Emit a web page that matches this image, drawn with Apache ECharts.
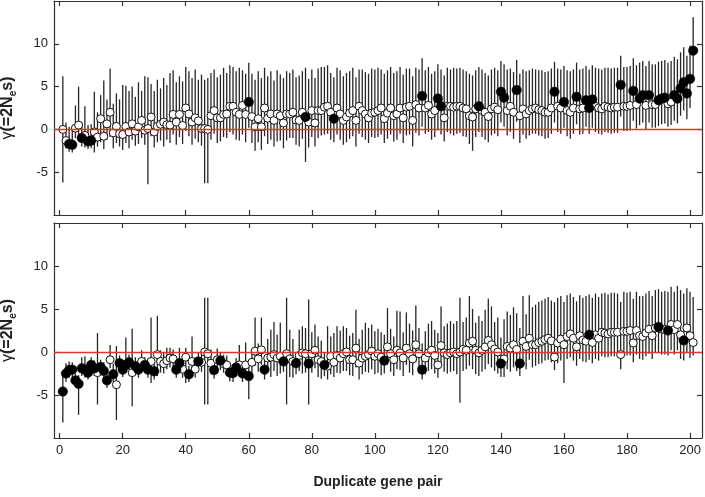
<!DOCTYPE html>
<html><head><meta charset="utf-8">
<script src="https://cdn.jsdelivr.net/npm/echarts@6/dist/echarts.min.js"></script>
<style>html,body{margin:0;padding:0;background:#fff}#c{width:705px;height:497px}</style>
</head><body><div id="c"></div>
<script>
const xTicks = [0,20,40,60,80,100,120,140,160,180,200];
const yTicks = [-5,0,5,10];

const topVal = [
0.0,-1.3,-1.7,-1.8,0.15,0.5,-1.0,-0.7,-1.4,-1.3,
-0.3,-0.9,1.25,-0.8,0.65,2.0,-0.4,0.35,-0.5,-0.6,
0.35,-0.3,0.65,-0.2,0.3,1.05,-0.1,0.1,1.45,-0.3,
0.35,0.6,0.85,0.55,0.5,1.75,0.85,1.75,0.45,2.5,
1.8,0.85,1.35,1.0,0.1,0.1,0.0,1.6,2.2,1.35,
1.35,1.75,1.8,2.7,2.7,2.0,1.75,2.8,1.75,3.2,
1.5,0.3,1.25,0.3,2.5,1.3,1.8,1.05,1.8,1.6,
0.75,1.8,1.8,2.0,1.1,1.05,2.0,1.45,0.85,2.2,
0.75,2.2,2.2,2.6,2.7,2.0,1.25,2.5,1.8,1.05,
1.45,1.9,2.2,1.05,2.7,2.2,1.8,1.35,1.9,2.0,
2.2,2.5,1.25,1.9,2.5,1.6,1.8,2.5,1.35,2.6,
2.7,1.05,2.9,2.5,3.9,2.5,2.8,1.8,2.2,3.6,
2.7,1.35,2.7,2.7,2.6,2.7,2.7,2.5,2.4,1.6,
1.45,2.4,2.7,2.2,2.0,1.5,2.4,2.6,2.3,4.4,
3.7,2.2,2.7,2.0,4.6,1.6,2.4,1.8,2.2,2.4,
2.5,2.3,2.2,2.0,2.0,2.5,4.4,2.7,2.5,3.2,
2.2,2.0,2.5,3.8,2.4,2.5,3.4,2.5,3.5,2.7,
2.5,2.4,2.7,2.6,2.5,2.6,2.6,5.2,2.7,2.7,
2.8,4.5,2.9,3.6,4.0,2.8,4.0,2.9,2.9,3.4,
3.6,3.7,3.0,3.2,4.0,3.6,4.8,5.5,4.2,5.9,
9.2];
const topHi = [
6.2,0.8,0.3,0.0,2.8,5.0,0.8,2.7,0.5,0.6,
4.4,2.0,4.0,5.7,3.5,7.1,3.0,4.2,3.5,5.2,
5.1,4.5,5.0,3.8,5.5,4.5,6.2,6.1,5.3,4.5,
5.8,4.8,6.0,5.2,6.6,6.9,5.5,6.2,5.6,7.3,
6.8,6.0,7.0,5.8,6.4,5.8,6.0,6.6,7.0,6.1,
6.4,7.2,6.6,7.5,7.3,6.8,7.2,6.9,6.5,7.8,
6.5,5.8,6.8,6.0,7.2,6.2,6.8,5.7,6.9,6.4,
6.0,6.8,6.6,7.0,6.1,6.3,6.8,7.2,5.9,7.0,
6.0,7.1,7.3,7.3,7.5,6.6,6.1,7.2,6.9,6.2,
6.6,6.8,7.2,6.1,7.0,7.0,6.7,6.5,7.1,7.0,
7.2,7.0,6.5,6.9,7.3,6.6,6.8,7.3,6.4,7.1,
7.1,6.2,7.2,7.0,8.3,6.9,7.3,6.5,6.8,7.6,
7.0,6.3,7.2,7.0,7.2,7.1,7.2,7.0,6.8,6.5,
6.3,6.9,7.3,7.0,6.6,6.3,7.0,7.2,6.9,8.0,
7.6,7.0,7.1,6.7,8.1,6.5,7.0,6.8,6.9,7.1,
7.0,6.9,6.9,6.7,6.8,7.1,7.9,7.1,7.0,7.4,
6.9,6.8,7.0,7.8,7.0,7.1,7.4,7.0,7.5,7.2,
7.1,7.0,7.2,7.2,7.1,7.2,7.2,8.6,7.3,7.3,
7.4,8.3,7.5,7.8,8.0,7.4,8.0,7.6,7.6,7.9,
8.0,8.1,7.8,8.0,8.5,8.2,9.0,9.6,8.6,9.8,
13.1];
const topLo = [
-6.2,-2.2,-2.6,-2.7,-1.0,-1.3,-2.0,-2.1,-2.3,-2.2,
-2.7,-2.0,-1.5,-2.3,-1.2,-0.9,-2.2,-1.6,-2.0,-2.4,
-1.6,-2.2,-1.2,-1.9,-1.7,-1.0,-1.8,-6.4,-0.8,-2.1,
-1.5,-1.3,-2.0,-1.2,-1.6,-0.6,-1.8,-0.9,-1.7,-0.2,
-0.8,-1.8,-1.1,-1.5,-1.9,-6.3,-6.3,-1.2,-0.5,-1.6,
-1.4,-0.9,-1.0,-0.3,-0.6,-1.2,-1.3,-0.6,-1.5,0.2,
-1.6,-2.5,-1.5,-2.4,-0.8,-1.7,-1.2,-2.0,-1.4,-1.3,
-2.2,-1.3,-1.0,-1.0,-1.8,-2.0,-1.1,-3.8,-2.1,-0.9,
-2.0,-1.0,-0.7,-0.6,-0.5,-1.2,-1.5,-0.6,-1.2,-1.8,
-1.5,-1.1,-0.8,-2.0,-0.5,-0.9,-1.2,-1.6,-0.9,-1.0,
-0.9,-0.6,-1.6,-1.1,-0.6,-1.4,-1.2,-0.5,-1.6,-0.7,
-0.6,-2.0,-0.4,-0.7,0.3,-0.5,-0.3,-1.2,-0.9,-0.1,
-0.6,-1.4,-0.3,-0.5,-0.7,-0.5,-0.4,-0.8,-0.9,-1.7,
-2.5,-0.9,-0.3,-0.9,-1.2,-1.5,-0.7,-0.5,-0.8,0.8,
0.3,-0.7,-0.3,-1.1,0.9,-1.6,-0.6,-1.1,-0.7,-0.5,
-0.5,-0.7,-0.8,-1.1,-1.0,-0.5,0.8,-0.3,-0.5,0.2,
-0.8,-1.1,-0.5,0.6,-0.6,-0.5,0.3,-0.5,0.2,-0.3,
-0.5,-0.6,-0.3,-0.4,-0.5,-0.4,-0.4,1.5,-0.2,-0.2,
-0.1,1.0,0.1,0.5,0.8,0.0,0.8,0.2,0.2,0.4,
0.6,0.7,0.3,0.5,1.0,0.7,1.6,2.2,1.2,2.5,
5.6];
const topFilledX = [3,4,7,9,10,60,78,87,115,120,121,133,140,141,145,157,160,164,167,168,169,178,182,184,185,187,190,191,192,195,196,197,198,199,200,201];

const botVal = [
-4.6,-2.5,-2.1,-2.05,-3.3,-3.7,-1.9,-2.05,-2.4,-1.5,
-1.9,-2.4,-1.75,-2.2,-3.3,-0.9,-2.6,-3.8,-1.3,-2.05,
-1.5,-1.2,-2.4,-1.65,-2.05,-1.1,-1.5,-2.05,-1.1,-2.25,
-0.3,-1.1,-1.35,-1.0,-0.7,-0.8,-2.05,-1.3,-2.0,-0.6,
-2.6,-1.1,-2.0,-1.1,-1.2,0.0,-0.2,-1.3,-2.1,-0.9,
-1.0,-1.35,-1.5,-2.4,-2.45,-1.8,-1.5,-2.5,-1.5,-2.8,
-1.2,0.1,-0.8,0.25,-2.05,-0.7,-0.6,-0.3,-0.7,-0.5,
-1.1,-0.2,-0.8,-1.1,-1.3,-0.4,-0.1,-0.2,-1.35,-0.2,
0.2,-0.9,-1.1,-1.5,-1.65,-0.5,-1.2,-0.4,-0.7,-0.2,
0.0,-0.9,-0.9,0.45,-1.3,-0.7,-0.5,-0.3,0.1,-0.5,
-0.2,-0.6,-1.0,0.6,-0.2,-0.9,0.2,-0.1,-0.7,0.45,
-0.2,-0.8,0.85,-0.2,-2.05,-0.7,-0.1,0.2,-0.4,-1.5,
0.75,-0.1,-0.3,-0.1,0.0,-0.2,0.0,0.3,0.2,1.05,
1.25,0.2,-0.1,0.2,0.6,1.35,0.85,0.35,0.0,-1.35,
-0.8,0.65,0.45,0.85,0.3,-1.35,1.25,0.65,1.6,0.85,
0.85,1.1,1.25,1.45,1.6,1.3,-0.6,1.05,1.5,0.85,
1.8,2.1,1.6,0.6,1.9,1.4,1.25,2.0,1.1,2.0,
1.6,2.3,2.2,2.1,2.3,2.3,2.3,-0.3,2.4,2.4,
2.5,1.05,2.5,1.9,1.8,2.2,2.65,1.9,2.8,2.9,
2.65,2.6,2.5,3.2,2.6,3.2,2.0,1.35,2.8,1.9,
1.1];
const botHi = [
-2.8,-1.3,-1.1,-1.2,-2.5,-2.7,-0.6,-0.5,-1.5,-0.6,
-1.0,2.2,-0.9,-1.2,-2.4,0.8,-1.4,0.7,-0.4,-0.9,
1.7,-0.3,2.7,-0.6,-1.1,0.2,-0.6,-1.0,4.0,-1.2,
4.2,0.2,0.0,0.5,0.5,0.3,-1.1,0.5,-0.9,0.5,
-1.6,1.8,-1.0,-0.1,0.1,6.3,6.3,0.3,-1.1,0.4,
0.0,-0.3,-0.4,-1.3,-1.4,-0.7,0.8,-1.4,1.1,-1.5,
0.2,4.0,1.0,4.0,-0.9,1.5,2.6,3.5,2.0,3.4,
0.0,6.3,2.6,1.5,-0.3,2.6,3.0,2.8,6.1,2.3,
3.2,1.8,1.3,0.0,3.0,1.8,2.2,3.0,2.5,3.0,
2.8,1.9,2.2,4.9,1.5,2.6,3.4,2.8,3.2,2.4,
2.7,2.3,2.0,5.1,2.7,1.8,4.8,4.7,2.3,4.6,
3.3,2.5,5.4,2.8,1.0,2.4,3.3,3.6,2.6,2.2,
5.3,3.0,3.3,3.6,3.3,3.6,6.3,3.5,4.0,6.5,
5.0,3.4,4.2,3.6,4.9,6.2,5.3,3.5,4.0,1.7,
3.8,4.7,4.3,5.2,4.5,2.8,6.5,4.4,6.6,5.2,
5.5,5.8,6.0,6.2,6.4,6.0,5.8,6.3,6.5,5.8,
6.6,6.8,6.4,5.9,6.6,6.3,6.5,6.7,6.3,6.8,
6.4,6.8,6.9,6.7,6.9,6.9,6.8,5.8,7.0,6.9,
7.0,6.2,7.0,6.5,6.5,6.8,7.1,6.5,7.2,7.3,
7.0,7.1,7.0,7.6,7.0,7.7,7.2,6.8,7.4,7.0,
6.4];
const botLo = [
-8.2,-3.5,-3.0,-2.9,-4.0,-7.3,-2.8,-3.0,-3.2,-2.4,
-2.8,-6.1,-2.6,-3.1,-4.2,-1.9,-3.5,-7.9,-2.2,-2.9,
-2.4,-2.1,-6.3,-2.6,-3.0,-2.2,-2.4,-3.0,-3.6,-3.2,
-2.8,-2.4,-2.5,-2.0,-1.8,-1.9,-3.0,-2.2,-3.0,-3.6,
-3.5,-2.8,-3.0,-2.2,-2.3,-6.1,-6.1,-2.6,-3.1,-2.0,
-2.1,-2.4,-2.6,-3.4,-3.5,-2.8,-2.6,-3.5,-2.5,-5.5,
-2.4,-1.6,-2.3,-1.5,-3.2,-2.1,-2.9,-2.2,-2.8,-2.5,
-2.3,-6.1,-2.9,-3.0,-2.6,-2.2,-2.5,-2.4,-6.1,-2.4,
-1.9,-2.9,-3.1,-2.8,-3.2,-2.6,-2.9,-2.4,-2.5,-2.2,
-2.2,-2.7,-2.8,-1.8,-3.2,-2.6,-2.3,-2.4,-2.0,-2.6,
-2.4,-2.7,-2.5,-1.5,-2.3,-2.8,-2.0,-2.1,-2.8,-1.5,
-2.4,-2.7,-1.2,-2.5,-3.2,-2.6,-2.2,-2.0,-2.5,-3.0,
-1.5,-2.3,-2.5,-2.3,-2.2,-2.6,-5.9,-2.2,-2.0,-1.6,
-2.0,-2.6,-2.8,-2.3,-2.0,-1.4,-1.8,-2.2,-2.5,-2.9,
-2.9,-2.0,-2.3,-1.8,-2.2,-2.8,-1.4,-2.0,-0.9,-1.8,
-1.6,-1.4,-1.3,-1.0,-0.9,-1.2,-2.1,-1.3,-1.0,-3.6,
-0.8,-0.6,-1.0,-1.6,-0.8,-1.1,-1.2,-0.9,-1.3,-0.8,
-1.0,-0.5,-0.6,-0.6,-0.5,-0.5,-0.6,-2.0,-0.4,-0.4,
-0.4,-1.2,-0.3,-0.8,-0.9,-0.5,-0.2,-0.8,-0.1,0.0,
-0.3,-0.3,-0.4,0.2,-0.3,0.2,-0.8,-1.0,-0.1,-0.7,
-0.4];
const botFilledX = [1,2,3,4,5,6,7,8,9,10,11,13,14,15,17,19,20,21,22,24,25,27,28,30,37,38,41,44,49,51,54,55,56,58,60,65,71,75,79,84,103,115,140,146,168,190,193,198];

const FONT = 'Liberation Sans, Arial, sans-serif';
const chart = echarts.init(document.getElementById('c'), null, {renderer:'canvas'});

function barData(val, lo, hi){ return val.map((v,i)=>[i+1, lo[i], hi[i]]); }
function ptData(val, filledX, filled){
  const s = new Set(filledX);
  const out = [];
  val.forEach((v,i)=>{ if (s.has(i+1) === filled) out.push([i+1, v]); });
  return out;
}
function renderBar(params, api){
  const x = api.value(0), lo = api.value(1), hi = api.value(2);
  const p1 = api.coord([x, lo]), p2 = api.coord([x, hi]);
  return {type:'line', shape:{x1:p1[0], y1:p1[1], x2:p2[0], y2:p2[1]},
          style:{stroke:'#262626', lineWidth:1.3}};
}
const axLine = {show:true, onZero:false, lineStyle:{color:'#333', width:1.2}};
function xAx(grid, pos, labels, name){
  const a = {type:'value', gridIndex:grid, position:pos, min:-1.8, max:203.8,
    axisLine:axLine,
    axisTick:{show:true, inside:true, length:5, customValues:xTicks, lineStyle:{color:'#333', width:1.2}},
    axisLabel:{show:labels, customValues:xTicks, color:'#222', fontFamily:FONT, fontSize:13, margin:6},
    splitLine:{show:false}};
  if (name){ a.name = name; a.nameLocation='middle'; a.nameGap=37;
    a.nameTextStyle = {fontFamily:FONT, fontWeight:'bold', fontSize:14, color:'#222'}; }
  return a;
}
const yName = '{g|γ}{b|(=2N}{sub|e}{b|s)}';
const yRich = {
  g:{fontFamily:FONT, fontSize:16, color:'#222', lineHeight:20, verticalAlign:'middle'},
  b:{fontFamily:FONT, fontSize:16, fontWeight:'bold', color:'#222', lineHeight:20, verticalAlign:'middle'},
  sub:{fontFamily:FONT, fontSize:10, fontWeight:'bold', color:'#222', lineHeight:10, verticalAlign:'bottom'}
};
function yAx(grid, pos, labels){
  const a = {type:'value', gridIndex:grid, position:pos, min:-10, max:15, interval:5,
    axisLine:axLine,
    axisTick:{show:true, inside:true, length:5, customValues:yTicks, lineStyle:{color:'#333', width:1.2}},
    axisLabel:{show:labels, customValues:yTicks, color:'#222', fontFamily:FONT, fontSize:13, margin:6},
    splitLine:{show:false}};
  if (labels){ a.name = yName; a.nameLocation='middle'; a.nameGap=36; a.nameRotate=90;
    a.nameTextStyle = {rich:yRich}; }
  return a;
}
function panelSeries(xi, yi, val, lo, hi, filledX){
  return [
    {type:'custom', xAxisIndex:xi, yAxisIndex:yi, z:2, renderItem:renderBar,
     encode:{x:0, y:[1,2]}, data:barData(val, lo, hi), clip:true},
    {type:'line', xAxisIndex:xi, yAxisIndex:yi, z:3, data:[], showSymbol:false,
     markLine:{silent:true, symbol:'none', label:{show:false},
       lineStyle:{color:'#e8322a', width:1.4, type:'solid'}, data:[{yAxis:0}]}},
    {type:'scatter', xAxisIndex:xi, yAxisIndex:yi, z:4, symbol:'circle', symbolSize:8,
     itemStyle:{color:'#ffffff', borderColor:'#111', borderWidth:1, opacity:1},
     data:ptData(val, filledX, false)},
    {type:'scatter', xAxisIndex:xi, yAxisIndex:yi, z:5, symbol:'circle', symbolSize:9.5,
     itemStyle:{color:'#000', borderColor:'#000', borderWidth:0.5, opacity:1},
     data:ptData(val, filledX, true)}
  ];
}
chart.setOption({
  animation:false,
  backgroundColor:'#fff',
  grid:[{left:54, right:3, top:1, height:214, containLabel:false, outerBoundsMode:'none'},
        {left:54, right:3, top:223, height:215, containLabel:false, outerBoundsMode:'none'}],
  xAxis:[xAx(0,'bottom',false), xAx(0,'top',false), xAx(1,'bottom',true,'Duplicate gene pair'), xAx(1,'top',false)],
  yAxis:[yAx(0,'left',true), yAx(0,'right',false), yAx(1,'left',true), yAx(1,'right',false)],
  series:[].concat(
    panelSeries(0,0, topVal, topLo, topHi, topFilledX),
    panelSeries(2,2, botVal, botLo, botHi, botFilledX)
  )
});
</script></body></html>
